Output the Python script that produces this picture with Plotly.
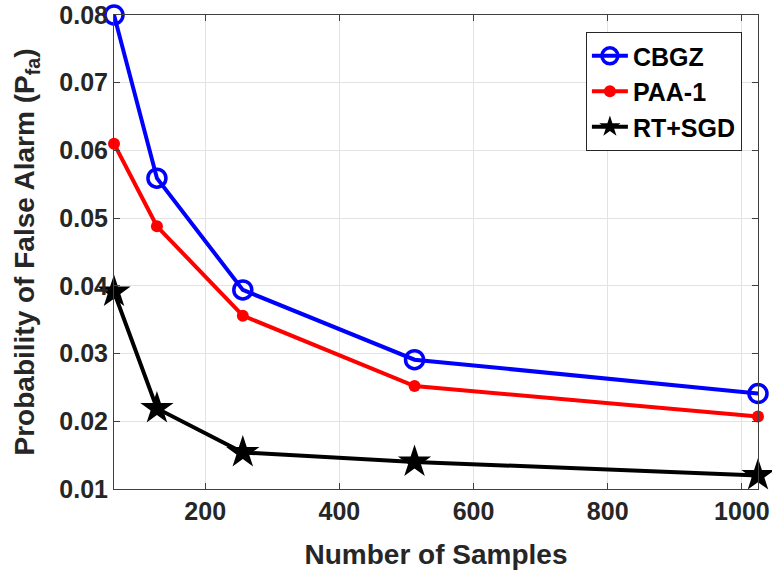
import plotly.graph_objects as go

samples = [64, 128, 256, 512, 1024]
cbgz = [0.0800, 0.0559, 0.0394, 0.0291, 0.0241]
paa1 = [0.0610, 0.0488, 0.0356, 0.0252, 0.0207]
rtsgd = [0.0391, 0.0219, 0.0154, 0.0140, 0.0120]

x_ticks = [200, 400, 600, 800, 1000]
y_ticks = [0.01, 0.02, 0.03, 0.04, 0.05, 0.06, 0.07, 0.08]

fig = go.Figure()
fig.add_trace(go.Scatter(x=samples, y=cbgz, name="CBGZ", mode="lines+markers",
                         line=dict(color="#0000ff", width=4),
                         marker=dict(symbol="circle-open", size=18, color="#0000ff",
                                     line=dict(width=3.5, color="#0000ff")),
                         cliponaxis=False))
fig.add_trace(go.Scatter(x=samples, y=paa1, name="PAA-1", mode="lines+markers",
                         line=dict(color="#ff0000", width=4),
                         marker=dict(symbol="circle", size=12, color="#ff0000"),
                         cliponaxis=False))
fig.add_trace(go.Scatter(x=samples, y=rtsgd, name="RT+SGD", mode="lines+markers",
                         line=dict(color="#000000", width=4),
                         marker=dict(symbol="star", size=25, color="#000000"),
                         cliponaxis=False))

font_family = "Liberation Sans, Arial, sans-serif"
fig.update_layout(
    width=772, height=578,
    margin=dict(l=114, r=14, t=15, b=89, autoexpand=False),
    paper_bgcolor="white", plot_bgcolor="white",
    font=dict(family=font_family, color="#262626"),
    showlegend=True,
    legend=dict(x=0.975, y=0.964, xanchor="right", yanchor="top",
                bgcolor="white", bordercolor="#262626", borderwidth=1,
                font=dict(size=25, color="black", family=font_family, weight="bold"),
                itemwidth=36, tracegroupgap=0),
)
fig.update_xaxes(
    range=[64, 1024], tickvals=x_ticks, automargin=False, ticklabeloverflow="allow",
    title=dict(text="<b>Number of Samples</b>", font=dict(size=28, color="#262626"), standoff=20),
    tickfont=dict(size=25, color="#262626", weight="bold"),
    showgrid=True, gridcolor="#e3e3e3", gridwidth=1,
    showline=True, linecolor="#404040", linewidth=1, mirror="ticks",
    ticks="inside", ticklen=6, tickcolor="#404040", zeroline=False,
)
fig.update_yaxes(
    range=[0.01, 0.08], tickvals=y_ticks, tickformat=".2f", automargin=False, ticklabeloverflow="allow",
    title=dict(text="<b>Probability of False Alarm (P<sub>fa</sub>)</b>", font=dict(size=28, color="#262626"), standoff=16),
    tickfont=dict(size=25, color="#262626", weight="bold"),
    showgrid=True, gridcolor="#e3e3e3", gridwidth=1,
    showline=True, linecolor="#404040", linewidth=1, mirror="ticks",
    ticks="inside", ticklen=6, tickcolor="#404040", zeroline=False,
)

fig.write_html("out.html", config={"displayModeBar": False},
               post_script="document.body.style.margin='0';document.body.style.overflow='hidden';")
